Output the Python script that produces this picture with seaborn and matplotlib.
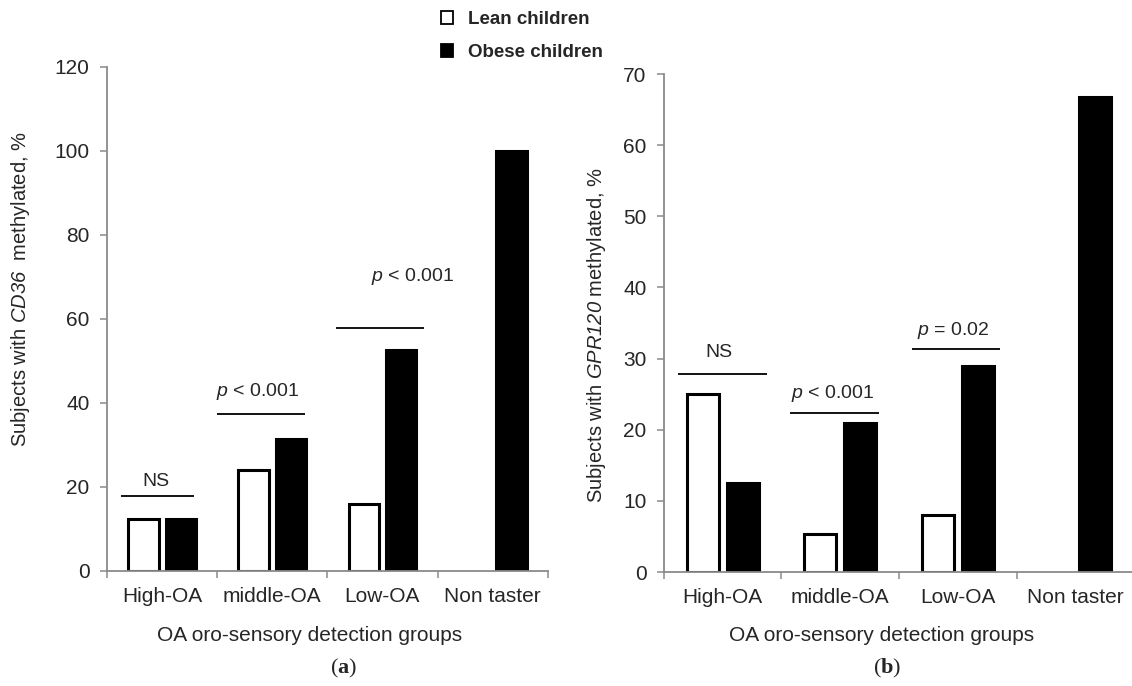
import numpy as np
import pandas as pd
import matplotlib
matplotlib.use("Agg")
import matplotlib.pyplot as plt
import seaborn as sns
from matplotlib.patches import Patch

# ---------------- data ----------------
groups = ["High-OA", "middle-OA", "Low-OA", "Non taster"]
series = ["Lean children", "Obese children"]
cd36_lean = [12.5, 24.0, 16.0, 0.0]
cd36_obese = [12.5, 31.5, 52.6, 100.0]
gpr120_lean = [25.0, 5.3, 8.0, 0.0]
gpr120_obese = [12.5, 21.0, 29.0, 66.7]

# significance annotations: (x_start, x_end, line_y, text, text_x, text_y)
ann_a = [(-0.37, 0.29, 17.9, "NS", -0.06, 21.3),
         (0.495, 1.294, 37.5, r"$p$ < 0.001", 0.87, 42.8),
         (1.575, 2.379, 57.9, r"$p$ < 0.001", 2.277, 70.2)]
ann_b = [(-0.38, 0.377, 27.9, "NS", -0.03, 30.9),
         (0.572, 1.33, 22.4, r"$p$ < 0.001", 0.934, 25.1),
         (1.611, 2.36, 31.3, r"$p$ = 0.02", 1.96, 33.9)]

sns.set_style("white")
plt.rcParams["font.family"] = ["Liberation Sans", "DejaVu Sans"]
plt.rcParams["mathtext.fontset"] = "custom"
# all math in this figure is italic (gene names, p), digits included
plt.rcParams["mathtext.rm"] = "Liberation Sans:italic"
plt.rcParams["mathtext.it"] = "Liberation Sans:italic"
plt.rcParams["mathtext.bf"] = "Liberation Serif:bold"

AXCOL = "#8a8a8a"

fig = plt.figure(figsize=(11.32, 6.86), dpi=100)
ax1 = fig.add_axes([107 / 1132, 115 / 686, 440.7 / 1132, 504 / 686])
ax2 = fig.add_axes([664 / 1132, 114 / 686, 470 / 1132, 498 / 686])


def draw(ax, lean, obese, ymax, ystep, ylabel, ann, xlab_x, ylab_xy):
    df = pd.DataFrame({
        "group": groups * 2,
        "series": [series[0]] * 4 + [series[1]] * 4,
        "value": list(lean) + list(obese),
    })
    sns.barplot(data=df, x="group", y="value", hue="series", order=groups,
                hue_order=series, palette={series[0]: "white", series[1]: "black"},
                edgecolor="black", linewidth=2.2, width=0.68, gap=0.19,
                legend=False, ax=ax)
    for p in ax.patches:
        if p.get_height() == 0:
            p.set_visible(False)
    ax.set_xlim(-0.5, 3.5)
    ax.set_ylim(0, ymax)
    ax.set_yticks(np.arange(0, ymax + 0.1, ystep))
    # ticks at category boundaries, labels at centres
    ax.set_xticks(np.arange(-0.5, 3.6, 1.0))
    ax.set_xticklabels([])
    ax.set_xticks(np.arange(4), minor=True)
    ax.set_xticklabels(groups, minor=True)
    ax.tick_params(axis="x", which="major", length=5, width=1.1, color=AXCOL,
                   direction="out", bottom=True)
    ax.tick_params(axis="x", which="minor", length=0, pad=11.5, labelsize=15)
    ax.tick_params(axis="y", length=5, width=1.1, color=AXCOL, direction="out",
                   left=True, pad=7.5, labelsize=15)
    for s in ["top", "right"]:
        ax.spines[s].set_visible(False)
    for s in ["left", "bottom"]:
        ax.spines[s].set_color(AXCOL)
        ax.spines[s].set_linewidth(1.3)
        ax.spines[s].set_zorder(3)
    ax.set_xlabel("OA oro-sensory detection groups", fontsize=15, va="center")
    ax.xaxis.set_label_coords(xlab_x, -0.127)
    ax.set_ylabel(ylabel, fontsize=14.5, va="center")
    ax.yaxis.set_label_coords(*ylab_xy)
    for x0, x1, ly, txt, tx, ty in ann:
        ax.plot([x0, x1], [ly, ly], color="black", lw=1.3, solid_capstyle="butt")
        ax.text(tx, ty, txt, ha="center", va="center", fontsize=14)


draw(ax1, cd36_lean, cd36_obese, 120, 20,
     r"Subjects with $CD36$  methylated, %", ann_a, 0.4606, (-0.197, 0.56))
draw(ax2, gpr120_lean, gpr120_obese, 70, 10,
     r"Subjects with $GPR120$ methylated, %", ann_b, 0.463, (-0.1426, 0.476))

handles = [Patch(facecolor="white", edgecolor="black", linewidth=1.3),
           Patch(facecolor="black", edgecolor="black", linewidth=1.3)]
fig.legend(handles, series, loc="upper left",
           bbox_to_anchor=(441 / 1132, 1 - 11 / 686), frameon=False,
           borderpad=0, borderaxespad=0, handlelength=0.65, handleheight=0.65,
           handletextpad=0.8, labelspacing=0.85,
           prop={"family": "Liberation Sans", "weight": "bold", "size": 13.5})

fig.text(344 / 1132, 1 - 668 / 686, r"($\mathbf{a}$)", ha="center", va="center",
         fontsize=16, family="Liberation Serif")
fig.text(886.7 / 1132, 1 - 668 / 686, r"($\mathbf{b}$)", ha="center", va="center",
         fontsize=16, family="Liberation Serif")

fig.savefig("out.png", dpi=100)
